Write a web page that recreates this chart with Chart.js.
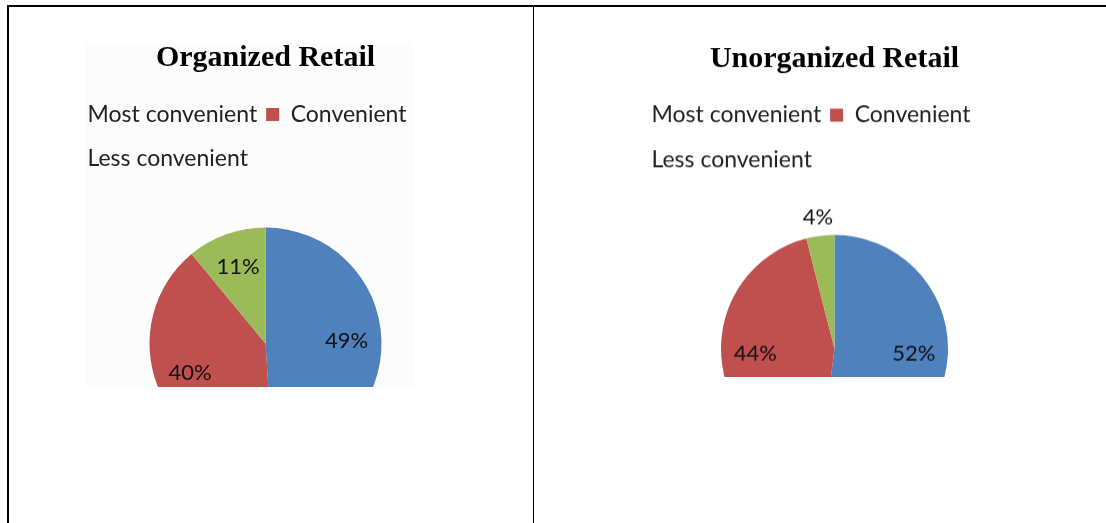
<!DOCTYPE html>
<html>
<head>
<meta charset="utf-8">
<title>Organized vs Unorganized Retail</title>
<script src="https://cdn.jsdelivr.net/npm/chart.js@4.4.1/dist/chart.umd.min.js"></script>
<style>
  html, body { margin: 0; padding: 0; background: #fff; }
  body { position: relative; width: 1106px; height: 523px; overflow: hidden; }
  .rule { position: absolute; background: #000; }
  .clip { position: absolute; overflow: hidden; }
  .frame { position: absolute; }
</style>
</head>
<body>
<!-- table lines -->
<div class="rule" style="left:7px;top:5px;width:1099px;height:2px"></div>
<div class="rule" style="left:7px;top:5px;width:2px;height:518px"></div>
<div class="rule" style="left:533px;top:5px;width:1px;height:518px"></div>

<!-- the pasted chart pictures were cropped: left edge hides two legend boxes, bottom cuts the pie -->
<div class="clip" style="left:86px;top:42px;width:328px;height:345px;background:#fcfcfc">
  <div class="frame" style="left:-32.5px;top:-14px;width:423px;height:491px"><canvas id="organized"></canvas></div>
</div>
<div class="clip" style="left:645px;top:40px;width:360px;height:337px">
  <div class="frame" style="left:-27.5px;top:-10px;width:433px;height:497.5px"><canvas id="unorganized"></canvas></div>
</div>

<script>
// data
var categories = ['Most convenient', 'Convenient', 'Less convenient'];
var organizedShare = [49, 40, 11];
var unorganizedShare = [52, 44, 4];

var sliceColors = ['#4F81BD', '#C0504D', '#9BBB59'];

// percent labels inside the slices, small slices get theirs outside
var percentLabels = {
    id: 'percentLabels',
    afterDatasetsDraw: function(chart) {
        var ctx = chart.ctx;
        var values = chart.data.datasets[0].data;
        ctx.save();
        ctx.font = '22px Lato';
        ctx.fillStyle = '#111';
        ctx.textAlign = 'center';
        ctx.textBaseline = 'middle';
        chart.getDatasetMeta(0).data.forEach(function(arc, i) {
            var p = arc.getProps(['x', 'y', 'startAngle', 'endAngle', 'outerRadius'], true);
            var mid = (p.startAngle + p.endAngle) / 2;
            var dist = values[i] < 5 ? p.outerRadius * 1.16 : p.outerRadius * 0.7;
            ctx.fillText(values[i] + '%', p.x + Math.cos(mid) * dist, p.y + Math.sin(mid) * dist);
        });
        ctx.restore();
    }
};

// legend clips to its box, give the pushed-down second row some room
var legendRoom = {
    id: 'legendRoom',
    afterLayout: function(chart) {
        chart.legend.bottom += 15;
        chart.legend.height += 15;
    }
};

function makePie(canvasId, title, values, radius, titlePad) {
    return new Chart(document.getElementById(canvasId), {
        type: 'pie',
        data: {
            labels: categories,
            datasets: [{
                data: values,
                backgroundColor: sliceColors,
                borderWidth: 0,
                hoverOffset: 0
            }]
        },
        options: {
            responsive: true,
            maintainAspectRatio: false,
            animation: false,
            events: [],
            radius: radius,
            plugins: {
                title: {
                    display: true,
                    text: title,
                    color: '#000',
                    font: { family: '"Liberation Serif", "Times New Roman", serif', size: 30, weight: 'bold' },
                    padding: titlePad
                },
                legend: {
                    position: 'top',
                    align: 'start',
                    labels: {
                        color: '#222',
                        font: { family: 'Lato, sans-serif', size: 23, lineHeight: '12.5px' },
                        boxWidth: 13,
                        boxHeight: 13,
                        padding: 9,
                        generateLabels: function(chart) {
                            var items = Chart.overrides.pie.plugins.legend.labels.generateLabels(chart);
                            // Excel spaced the two legend rows wider than chart.js does
                            items[2].text = ['', items[2].text];
                            return items;
                        }
                    }
                },
                tooltip: { enabled: false }
            }
        },
        plugins: [percentLabels, legendRoom]
    });
}

makePie('organized', 'Organized Retail', organizedShare, 116, { top: 12, bottom: 18 });
makePie('unorganized', 'Unorganized Retail', unorganizedShare, 113.5, { top: 11.5, bottom: 17 });
</script>
</body>
</html>
